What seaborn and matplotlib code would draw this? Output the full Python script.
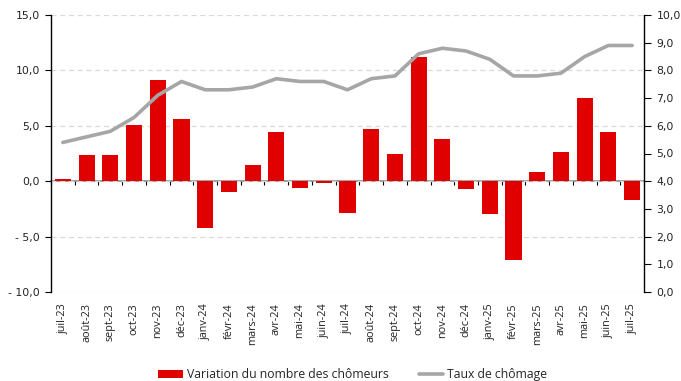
import numpy as np
import pandas as pd
import matplotlib
matplotlib.use("Agg")
import matplotlib.pyplot as plt
from matplotlib.patches import Patch
from matplotlib.lines import Line2D
from matplotlib.ticker import FuncFormatter
import seaborn as sns

# Monthly data, July 2023 - July 2025
mois = ["juil-23", "août-23", "sept-23", "oct-23", "nov-23", "déc-23",
        "janv-24", "févr-24", "mars-24", "avr-24", "mai-24", "juin-24",
        "juil-24", "août-24", "sept-24", "oct-24", "nov-24", "déc-24",
        "janv-25", "févr-25", "mars-25", "avr-25", "mai-25", "juin-25",
        "juil-25"]
variation = [0.2, 2.4, 2.4, 5.1, 9.1, 5.6,
             -4.2, -1.0, 1.5, 4.4, -0.6, -0.2,
             -2.9, 4.7, 2.5, 11.2, 3.8, -0.7,
             -3.0, -7.1, 0.8, 2.6, 7.5, 4.4,
             -1.7]
taux = [5.4, 5.6, 5.8, 6.3, 7.1, 7.6,
        7.3, 7.3, 7.4, 7.7, 7.6, 7.6,
        7.3, 7.7, 7.8, 8.6, 8.8, 8.7,
        8.4, 7.8, 7.8, 7.9, 8.5, 8.9,
        8.9]
label_bars = "Variation du nombre des chômeurs"
label_line = "Taux de chômage"

RED = "#E00000"
GREY = "#A6A6A6"

df = pd.DataFrame({"mois": mois, "variation": variation, "taux": taux})

sns.set_theme(style="white")
plt.rcParams["font.family"] = ["DejaVu Sans"]

fig = plt.figure(figsize=(6.81, 3.81), dpi=100)
ax = fig.add_axes([51 / 681, 1 - 292 / 381, (644 - 51) / 681, (292 - 15) / 381])
ax2 = ax.twinx()

sns.barplot(data=df, x="mois", y="variation", color=RED, saturation=1,
            width=0.68, linewidth=0, ax=ax, zorder=3)
sns.pointplot(data=df, x="mois", y="taux", color=GREY, markersize=0,
              linewidth=2.6, ax=ax2, errorbar=None)

n = len(mois)
ax.set_xlim(-0.5, n - 0.5)
ax.set_ylim(-10, 15)
ax2.set_ylim(0, 10)

ax.set_xlabel("")
ax.set_ylabel("")
ax2.set_ylabel("")

# value axes with French decimal commas
comma = FuncFormatter(lambda v, p: ("- " if v < 0 else "") + f"{abs(v):.1f}".replace(".", ","))
ax.set_yticks(np.arange(-10, 16, 5))
ax.yaxis.set_major_formatter(comma)
ax.tick_params(axis="y", which="major", direction="out", length=4, width=0.8,
               color="black", labelsize=7.8, pad=4, labelcolor="#222222", left=True)
ax2.set_yticks(np.arange(0, 11, 1))
ax2.yaxis.set_major_formatter(comma)
ax2.tick_params(axis="y", which="major", direction="out", length=5, width=0.8,
                color="black", labelsize=7.8, pad=4, labelcolor="#222222", right=True)

# dashed gridlines on the left scale
ax.grid(axis="y", color="#D9D9D9", linestyle=(0, (4, 3)), linewidth=0.9, zorder=0)
ax.grid(axis="x", visible=False)
ax2.grid(False)

for a in (ax, ax2):
    a.spines["top"].set_visible(False)
    a.spines["bottom"].set_visible(False)
ax.spines["left"].set_color("black")
ax.spines["left"].set_linewidth(1.0)
ax.spines["right"].set_visible(False)
ax2.spines["left"].set_visible(False)
ax2.spines["right"].set_color("black")
ax2.spines["right"].set_linewidth(1.0)

# month labels at the bottom
ax.set_xticks(range(n))
ax.set_xticklabels(mois, rotation=90, fontsize=7.8, family="Open Sans", color="#222222")
ax.tick_params(axis="x", length=0, pad=8, bottom=False)

# zero line with category separators
zero = ax.secondary_xaxis(0, transform=ax.transData)
zero.spines["bottom"].set_color("#8C8C8C")
zero.spines["bottom"].set_linewidth(1.2)
zero.set_xticks(np.arange(n + 1) - 0.5)
zero.set_xticklabels([])
zero.tick_params(axis="x", direction="out", length=3, width=0.8, color="black")

handles = [Patch(facecolor=RED, edgecolor="none"),
           Line2D([], [], color=GREY, linewidth=2.6)]
fig.legend(handles, [label_bars, label_line], loc="lower center",
           bbox_to_anchor=(0.518, -0.03), ncol=2, frameon=False,
           prop={"family": "Open Sans", "size": 8.8}, handlelength=2.0,
           handleheight=0.7, handletextpad=0.35, columnspacing=2.45)

fig.savefig("out.png", dpi=100)
